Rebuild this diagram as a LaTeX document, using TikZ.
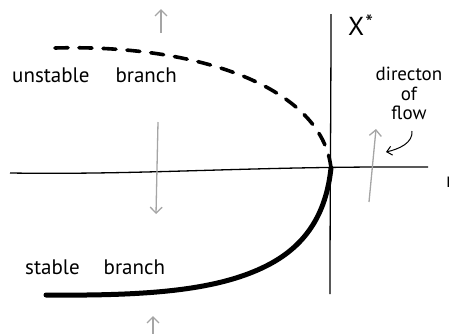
\documentclass[tikz,border=0pt]{standalone}
\usepackage{fontspec}
\setmainfont{PT Sans}
\usetikzlibrary{arrows.meta}
\definecolor{flowgray}{RGB}{165,165,165}
\tikzset{
  axis/.style={line width=1.3pt, black},
  unstablecurve/.style={line width=3.6pt, dash pattern=on 13pt off 11pt, line cap=round},
  stablecurve/.style={line width=5pt, line cap=round},
  flowarrow/.style={flowgray, line width=1.3pt, -{Straight Barb[length=6pt, width=12pt, line width=1.3pt]}},
  notearrow/.style={black, line width=1pt, -{Straight Barb[length=5pt, width=9pt, line width=1pt]}},
  lbl/.style={inner sep=0pt, font=\fontsize{21}{21}\selectfont},
}
\begin{document}
\begin{tikzpicture}[x=1pt, y=-1pt]
\useasboundingbox (0,0) rectangle (449,333);
% axes
\coordinate (hl) at (10,173);
\coordinate (hr) at (428,167);
\coordinate (vt) at (331,14);
\coordinate (vb) at (330,294);
\coordinate (o) at (331,168);
\draw[axis] (hl) .. controls (150,175) and (250,166) .. (hr);
\draw[axis] (vt) .. controls (331,100) and (330,200) .. (vb);
% branches
\coordinate (us) at (55,48);
\coordinate (ss) at (46,295);
\coordinate (sm) at (262,268);
\draw[unstablecurve] (us) .. controls (200,44) and (322,88) .. (o);
\draw[stablecurve] (ss) .. controls (150,296) and (215,290) .. (sm) .. controls (305,248) and (326,215) .. (o);
% labels
\node[lbl, anchor=base west] (ul) at (12,82) {unstable\hspace{26pt}branch};
\node[lbl, anchor=base west] (sl) at (25,274) {stable\hspace{24pt}branch};
\node[inner sep=0pt, anchor=base west, font=\fontsize{26}{26}\selectfont] (xs) at (348,35) {X\hspace{1pt}\raisebox{5pt}{\fontsize{22}{22}\selectfont *}};
\node[inner sep=0pt, anchor=base west, font=\fontsize{21}{21}\selectfont] (rr) at (446,187) {r};
\node[inner sep=0pt, align=center, font=\fontsize{19}{19.5}\selectfont, anchor=north] (df) at (409,67) {directon\\of\\flow};
% flow arrows
\coordinate (a1s) at (161,33); \coordinate (a1e) at (161,9);
\coordinate (a2s) at (158,122); \coordinate (a2e) at (156,214);
\coordinate (a3s) at (153,334); \coordinate (a3e) at (153,316);
\coordinate (a4s) at (369,202); \coordinate (a4e) at (376,129);
\draw[flowarrow] (a1s) -- (a1e);
\draw[flowarrow] (a2s) -- (a2e);
\draw[flowarrow] (a3s) -- (a3e);
\draw[flowarrow] (a4s) -- (a4e);
% note arrow
\coordinate (ns) at (412,131);
\coordinate (ne) at (386,152);
\draw[notearrow] (ns) .. controls (413,143) and (399,149) .. (ne);
\end{tikzpicture}
\end{document}
